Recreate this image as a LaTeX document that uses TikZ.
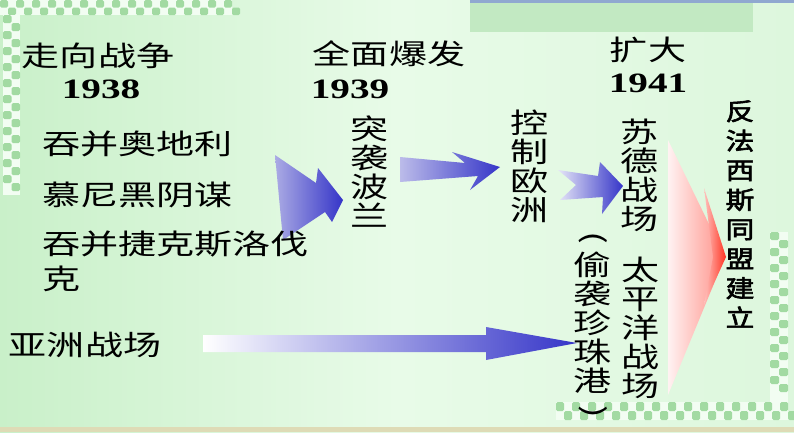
\documentclass[tikz,border=0pt]{standalone}
\usepackage{fontspec}
\usepackage{graphicx}
\newfontfamily\cjk[FakeStretch=1.36]{Noto Sans CJK SC}
\newfontfamily\cjkb[FakeStretch=1.2,FakeBold=2.5]{Noto Sans CJK SC}
\newfontfamily\numfont[FakeStretch=1.4]{Liberation Serif}
\usetikzlibrary{calc}

\definecolor{bgleft}{HTML}{C9F0C9}
\definecolor{bgmid}{HTML}{E8FBE8}
\definecolor{bgright}{HTML}{DDF7DD}
\definecolor{chk}{HTML}{A2DAA2}
\definecolor{chkw}{HTML}{F2FDF2}
\definecolor{topline}{HTML}{90A8D0}
\definecolor{arblue}{HTML}{3535C8}
\definecolor{arlav}{HTML}{ABABE4}
\definecolor{arred}{HTML}{FF3322}

\newcommand{\vparl}{\rotatebox[origin=c]{-90}{(}}
\newcommand{\vparr}{\rotatebox[origin=c]{-90}{)}}

\tikzset{
  lab/.style={inner sep=0pt, font=\cjk\fontsize{28}{29}\selectfont},
  vlab/.style={lab, align=center},
  yr/.style={inner sep=0pt, font=\numfont\bfseries\fontsize{28}{29}\selectfont},
}

\begin{document}
\begin{tikzpicture}[x=1pt,y=-1pt]
\useasboundingbox (0,0) rectangle (794,432);

% background
\shade[left color=bgleft, right color=bgright, middle color=bgmid] (0,0) rectangle (794,432);
\fill[chk!55!bgmid] (470,2) rectangle (753,32);
\fill[topline] (470,0) rectangle (794,2.5);
\fill[gray!40!olive!30] (0,427) rectangle (794,432);

% checker borders
\fill[chkw] (0,0) rectangle (232,15);
\foreach \i in {0,2,...,28} {
  \fill[chk, rounded corners=1.5pt] (\i*8,0) rectangle ++(8,7.5);
  \fill[chk, rounded corners=1.5pt] (\i*8+8,7.5) rectangle ++(8,7.5);
}
\fill[chkw] (3,15) rectangle (20,195);
\foreach \j in {15,31,...,180} {
  \fill[chk, rounded corners=1.5pt] (3,\j) rectangle ++(8.5,8);
  \fill[chk, rounded corners=1.5pt] (11.5,\j+8) rectangle ++(8.5,8);
}
\fill[chkw] (556,402) rectangle (788,420);
\foreach \i in {0,2,...,28} {
  \fill[chk, rounded corners=1.5pt] (556+\i*8,402) rectangle ++(8,9);
  \fill[chk, rounded corners=1.5pt] (564+\i*8,411) rectangle ++(8,9);
}
\fill[chkw] (770,232) rectangle (788,402);
\foreach \j in {232,248,...,390} {
  \fill[chk, rounded corners=1.5pt] (770,\j) rectangle ++(9,8);
  \fill[chk, rounded corners=1.5pt] (779,\j+8) rectangle ++(9,8);
}

% arrows
\shade[left color=arlav, right color=arblue] (275,155) -- (316,183) -- (318,168) -- (343,200) -- (332,222) -- (325,212) -- (283,240) -- cycle;
\shade[left color=arlav!80!white, right color=arblue] (400,157) -- (465,163) -- (452,152) -- (500,167) -- (470,190) -- (478,176) -- (400,182) -- cycle;
\shade[left color=arlav!30!white, right color=arblue] (558,170) -- (598,176) -- (600,162) -- (623,186) -- (602,214) -- (603,197) -- (560,200) -- (576,185) -- cycle;
\shade[left color=white, right color=arblue] (203,335) -- (486,335) -- (486,327) -- (577,343) -- (486,360) -- (486,352) -- (203,352) -- cycle;
\shade[left color=white!95!red, right color=arred!55!white] (668,140) -- (725,257) -- (668,395) -- cycle;
\shade[left color=arred!30!white, right color=arred] (704,188) -- (726,257) -- (704,305) -- (713,257) -- cycle;

% headings
\node[lab] (head38) at (98,56) {走向战争};
\node[yr] (year38) at (101,89) {1938};
\node[lab] (head39) at (389,54) {全面爆发};
\node[yr] (year39) at (350,89) {1939};
\node[lab] (head41) at (648,50) {扩大};
\node[yr] (year41) at (648,83) {1941};

% events
\node[lab, anchor=west] (aut) at (42,144) {吞并奥地利};
\node[lab, anchor=west] (mun) at (42,195) {慕尼黑阴谋};
\node[lab, anchor=north west, align=left, font=\cjk\fontsize{28}{35}\selectfont] (cze) at (42,231) {吞并捷克斯洛伐\\克};
\node[lab] (asia) at (85,345) {亚洲战场};

\node[vlab] (pol) at (370,172) {突\\袭\\波\\兰};
\node[vlab] (eur) at (530,166) {控\\制\\欧\\洲};
\node[vlab] (sov) at (640,175) {苏\\德\\战\\场};
\node[vlab] (pac) at (641,328) {太\\平\\洋\\战\\场};
\node[vlab] (pearl) at (593,326) {\vparl\\偷\\袭\\珍\\珠\\港\\\vparr};
\node[inner sep=0pt, align=center, font=\cjkb\fontsize{24}{29.5}\selectfont] (ally) at (740,214) {反\\法\\西\\斯\\同\\盟\\建\\立};

\end{tikzpicture}
\end{document}
